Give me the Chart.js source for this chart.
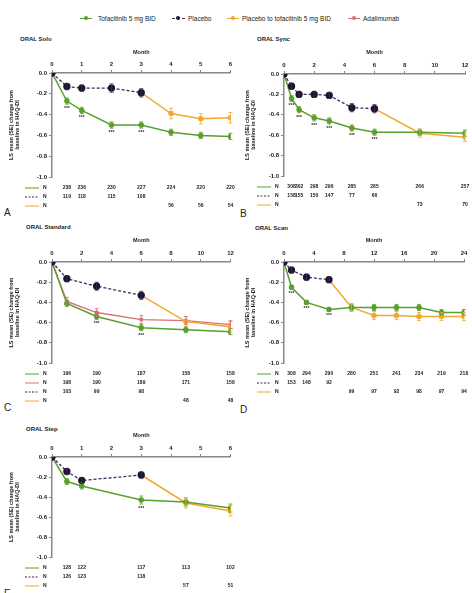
<!DOCTYPE html>
<html><head><meta charset="utf-8">
<script src="https://cdn.jsdelivr.net/npm/chart.js@4/dist/chart.umd.min.js"></script>
<style>
body{margin:0;width:472px;height:593px;background:#fff;position:relative;overflow:hidden;font-family:"Liberation Sans",Arial,sans-serif;color:#222;}
.cv{position:absolute;width:236px;height:195px;}
.ttl{position:absolute;font-size:6px;font-weight:bold;white-space:nowrap;}
.let{position:absolute;font-size:10px;white-space:nowrap;}
.lg{position:absolute;top:15px;font-size:6.5px;white-space:nowrap;line-height:8px;}
.ico{position:absolute;top:18px;height:0;}
.dot{position:absolute;top:16px;width:4px;height:4px;border-radius:50%;}
</style>
</head><body>
<div class="ico" style="left:80px;width:12px;border-top:1.5px solid #5aa02c"></div><div class="dot" style="left:84px;background:#5aa02c"></div>
<div class="lg" style="left:98px">Tofacitinib 5 mg BID</div>
<div class="ico" style="left:172px;width:13px;border-top:1.5px dashed #3a2a5c"></div><div class="dot" style="left:176px;background:#1d1530"></div>
<div class="lg" style="left:188px">Placebo</div>
<div class="ico" style="left:227px;width:12px;border-top:1.5px solid #f0a830"></div><div class="dot" style="left:231px;background:#f0a830"></div>
<div class="lg" style="left:242px">Placebo to tofacitinib 5 mg BID</div>
<div class="ico" style="left:348px;width:12px;border-top:1.5px solid #d9707a"></div><div class="dot" style="left:352px;background:#d9707a"></div>
<div class="lg" style="left:363px">Adalimumab</div>

<div class="ttl" style="left:20px;top:36px">ORAL Solo</div>
<div class="ttl" style="left:257px;top:36px">ORAL Sync</div>
<div class="ttl" style="left:26px;top:224px">ORAL Standard</div>
<div class="ttl" style="left:255px;top:225px">ORAL Scan</div>
<div class="ttl" style="left:26px;top:426px">ORAL Step</div>
<div class="let" style="left:4px;top:207px">A</div>
<div class="let" style="left:240px;top:208px">B</div>
<div class="let" style="left:4px;top:402px">C</div>
<div class="let" style="left:240px;top:404px">D</div>
<div class="let" style="left:4px;top:588px">E</div>

<canvas id="cA" class="cv" style="left:0;top:30px"></canvas>
<canvas id="cB" class="cv" style="left:236px;top:30px"></canvas>
<canvas id="cC" class="cv" style="left:0;top:218px"></canvas>
<canvas id="cD" class="cv" style="left:236px;top:218px"></canvas>
<canvas id="cE" class="cv" style="left:0;top:413px"></canvas>
<script>
// ---------- ORAL Solo ----------
const soloTofaX=[0,0.5,1,2,3,4,5,6];
const soloTofaY=[0,-0.27,-0.36,-0.50,-0.50,-0.57,-0.60,-0.61];
const soloTofaSE=[0,0.03,0.03,0.03,0.03,0.03,0.03,0.03];
const soloPboX=[0,0.5,1,2,3];
const soloPboY=[0,-0.13,-0.145,-0.145,-0.19];
const soloPboSE=[0,0.03,0.03,0.04,0.04];
const soloSwX=[3,4,5,6];
const soloSwY=[-0.19,-0.39,-0.44,-0.43];
const soloSwSE=[0,0.05,0.05,0.05];
const soloNTofaX=[0.5,1,2,3,4,5,6], soloNTofa=[238,236,230,227,224,220,220];
const soloNPboX=[0.5,1,2,3], soloNPbo=[119,118,115,108];
const soloNSwX=[4,5,6], soloNSw=[56,56,54];
const soloSigX=[0.5,1,2,3];
// ---------- ORAL Sync ----------
const syncTofaX=[0,0.5,1,2,3,4.5,6,9,12];
const syncTofaY=[0,-0.24,-0.35,-0.43,-0.46,-0.53,-0.57,-0.57,-0.58];
const syncTofaSE=[0,0.03,0.03,0.03,0.03,0.03,0.03,0.03,0.03];
const syncPboX=[0,0.5,1,2,3,4.5,6];
const syncPboY=[0,-0.12,-0.20,-0.20,-0.21,-0.33,-0.34];
const syncPboSE=[0,0.03,0.03,0.03,0.03,0.04,0.04];
const syncSwX=[6,9,12];
const syncSwY=[-0.34,-0.58,-0.62];
const syncSwSE=[0,0.04,0.04];
const syncNTofaX=[0.5,1,2,3,4.5,6,9,12], syncNTofa=[308,302,298,296,285,285,266,257];
const syncNPboX=[0.5,1,2,3,4.5,6], syncNPbo=[158,155,150,147,77,66];
const syncNSwX=[9,12], syncNSw=[73,70];
const syncSigX=[0.5,1,2,3,4.5,6];
// ---------- ORAL Standard ----------
const stdTofaX=[0,1,3,6,9,12];
const stdTofaY=[0,-0.41,-0.54,-0.65,-0.67,-0.69];
const stdTofaSE=[0,0.03,0.03,0.03,0.03,0.03];
const stdAdaX=[0,1,3,6,9,12];
const stdAdaY=[0,-0.39,-0.50,-0.57,-0.58,-0.62];
const stdAdaSE=[0,0.04,0.04,0.04,0.04,0.04];
const stdPboX=[0,1,3,6];
const stdPboY=[0,-0.165,-0.24,-0.33];
const stdPboSE=[0,0.03,0.04,0.04];
const stdSwX=[6,9,12];
const stdSwY=[-0.33,-0.59,-0.64];
const stdSwSE=[0,0.05,0.05];
const stdNTofaX=[1,3,6,9,12], stdNTofa=[196,190,187,158,158];
const stdNAdaX=[1,3,6,9,12], stdNAda=[198,190,189,171,158];
const stdNPboX=[1,3,6], stdNPbo=[103,99,98];
const stdNSwX=[9,12], stdNSw=[48,48];
const stdSigX=[3,6];
// ---------- ORAL Scan ----------
const scanTofaX=[0,1,3,6,9,12,15,18,21,24];
const scanTofaY=[0,-0.25,-0.40,-0.47,-0.45,-0.45,-0.45,-0.45,-0.50,-0.50];
const scanTofaSE=[0,0.02,0.02,0.02,0.03,0.03,0.03,0.03,0.03,0.03];
const scanPboX=[0,1,3,6];
const scanPboY=[0,-0.08,-0.15,-0.175];
const scanPboSE=[0,0.03,0.03,0.03];
const scanSwX=[6,9,12,15,18,21,24];
const scanSwY=[-0.175,-0.45,-0.53,-0.53,-0.54,-0.54,-0.54];
const scanSwSE=[0,0.04,0.04,0.04,0.04,0.04,0.04];
const scanNTofaX=[1,3,6,9,12,15,18,21,24], scanNTofa=[308,294,290,280,251,241,234,219,218];
const scanNPboX=[1,3,6], scanNPbo=[153,148,92];
const scanNSwX=[9,12,15,18,21,24], scanNSw=[99,97,92,98,97,94];
const scanSigX=[1,3,6];
// ---------- ORAL Step ----------
const stepTofaX=[0,0.5,1,3,4.5,6];
const stepTofaY=[0,-0.245,-0.29,-0.43,-0.45,-0.51];
const stepTofaSE=[0,0.03,0.03,0.04,0.04,0.04];
const stepPboX=[0,0.5,1,3];
const stepPboY=[0,-0.145,-0.235,-0.18];
const stepPboSE=[0,0.03,0.03,0.03];
const stepSwX=[3,4.5,6];
const stepSwY=[-0.18,-0.46,-0.54];
const stepSwSE=[0,0.05,0.05];
const stepNTofaX=[0.5,1,3,4.5,6], stepNTofa=[128,122,117,113,102];
const stepNPboX=[0.5,1,3], stepNPbo=[126,123,118];
const stepNSwX=[4.5,6], stepNSw=[57,51];
const stepSigX=[3];

const GREEN='#5aa02c', PURPLE='#3a2a5c', PDOT='#1d1530', ORANGE='#f0a830', PINK='#d9707a';
const yTicks=[0,-0.2,-0.4,-0.6,-0.8,-1.0];

function pts(xs,ys){return xs.map((x,i)=>({x:x,y:ys[i]}));}
function dsTofa(x,y,se){return {label:'Tofacitinib 5 mg BID',data:pts(x,y),se:se,borderColor:GREEN,backgroundColor:GREEN,borderWidth:1.5,pointRadius:2,order:2};}
function dsPbo(x,y,se){return {label:'Placebo',data:pts(x,y),se:se,borderColor:PURPLE,backgroundColor:PDOT,pointBorderColor:PDOT,borderWidth:1.3,borderDash:[3,2],pointRadius:3,order:1};}
function dsSw(x,y,se){return {label:'Placebo to tofacitinib 5 mg BID',data:pts(x,y),se:se,borderColor:ORANGE,backgroundColor:ORANGE,borderWidth:1.5,pointRadius:2,order:3};}
function dsAda(x,y,se){return {label:'Adalimumab',data:pts(x,y),se:se,borderColor:PINK,backgroundColor:PINK,borderWidth:1.3,pointRadius:1.5,order:4};}

const extras={
  id:'extras',
  afterDatasetsDraw(chart,args,o){
    const ctx=chart.ctx,xs=chart.scales.x,ys=chart.scales.y;
    chart.data.datasets.forEach(ds=>{
      ctx.save();ctx.strokeStyle=ds.borderColor;ctx.lineWidth=0.8;
      ds.data.forEach((p,j)=>{
        const se=ds.se[j]; if(!se) return;
        const x=xs.getPixelForValue(p.x),a=ys.getPixelForValue(p.y+se),b=ys.getPixelForValue(p.y-se);
        ctx.beginPath();ctx.moveTo(x,a);ctx.lineTo(x,b);ctx.moveTo(x-2,a);ctx.lineTo(x+2,a);ctx.moveTo(x-2,b);ctx.lineTo(x+2,b);ctx.stroke();
      });
      ctx.restore();
    });
    // significance marks under tofacitinib points
    const t=chart.data.datasets[0];
    ctx.save();ctx.fillStyle='#333';ctx.font='bold 5px "Liberation Sans",Arial';ctx.textAlign='center';ctx.textBaseline='top';
    (o.sig||[]).forEach(sx=>{
      const j=t.data.findIndex(p=>p.x===sx); if(j<0) return;
      const p=t.data[j];
      ctx.fillText('***',xs.getPixelForValue(p.x),ys.getPixelForValue(p.y-t.se[j])+2);
    });
    ctx.restore();
  },
  afterDraw(chart,args,o){
    const ctx=chart.ctx,xs=chart.scales.x,ca=chart.chartArea;
    ctx.save();
    (o.rows||[]).forEach((r,i)=>{
      const y=ca.bottom+11+i*9;
      ctx.strokeStyle=r.color;ctx.lineWidth=1;ctx.setLineDash(r.dash?[2,1.5]:[]);
      ctx.beginPath();ctx.moveTo(ca.left-27,y);ctx.lineTo(ca.left-13,y);ctx.stroke();
      ctx.setLineDash([]);
      ctx.fillStyle='#222';ctx.font='bold 5px "Liberation Sans",Arial';ctx.textBaseline='middle';ctx.textAlign='left';
      ctx.fillText('N',ca.left-9,y);
      ctx.textAlign='center';
      r.xs.forEach((x,k)=>ctx.fillText(String(r.ns[k]),xs.getPixelForValue(x),y));
    });
    ctx.restore();
  }
};

function make(id,max,step,datasets,rows,sig,geo){
  const H=195;
  new Chart(document.getElementById(id),{
    type:'line',
    data:{datasets:datasets},
    plugins:[extras],
    options:{
      responsive:false,animation:false,
      layout:{padding:{left:8,top:19,right:236-geo.r,bottom:H-geo.b}},
      plugins:{legend:{display:false},tooltip:{enabled:false},extras:{rows:rows,sig:sig}},
      scales:{
        x:{type:'linear',position:'top',min:0,max:max,
          afterFit:s=>{s.height=geo.t-19;},
          title:{display:true,text:'Month',color:'#222',font:{size:5.5,weight:'bold',family:'"Liberation Sans",Arial'},padding:0},
          ticks:{stepSize:step,color:'#222',font:{size:6,weight:'bold',family:'"Liberation Sans",Arial'},padding:2,maxRotation:0},
          grid:{display:true,drawOnChartArea:false,drawTicks:true,tickLength:3,color:'#888'},
          border:{display:true,color:'#888',width:1.5}},
        y:{type:'linear',min:-1,max:0,
          afterFit:s=>{s.width=geo.l-8;},
          afterBuildTicks:s=>{s.ticks=yTicks.map(v=>({value:v}));},
          title:{display:true,text:['LS mean (SE) change from','baseline in HAQ-DI'],color:'#222',font:{size:5.5,weight:'bold',family:'"Liberation Sans",Arial'},padding:0},
          ticks:{color:'#222',font:{size:6,weight:'bold',family:'"Liberation Sans",Arial'},padding:2,callback:v=>v.toFixed(1)},
          grid:{display:true,drawOnChartArea:false,drawTicks:true,tickLength:3,color:'#888'},
          border:{display:true,color:'#888',width:1.5}}
      }
    }
  });
}
const c=document.querySelectorAll('canvas');
c.forEach(e=>{e.width=236;e.height=195;});

make('cA',6,1,[dsTofa(soloTofaX,soloTofaY,soloTofaSE),dsPbo(soloPboX,soloPboY,soloPboSE),dsSw(soloSwX,soloSwY,soloSwSE)],
  [{color:GREEN,xs:soloNTofaX,ns:soloNTofa},{color:PURPLE,dash:true,xs:soloNPboX,ns:soloNPbo},{color:ORANGE,xs:soloNSwX,ns:soloNSw}],
  soloSigX,{l:52,r:232,t:43,b:147});
make('cB',12,2,[dsTofa(syncTofaX,syncTofaY,syncTofaSE),dsPbo(syncPboX,syncPboY,syncPboSE),dsSw(syncSwX,syncSwY,syncSwSE)],
  [{color:GREEN,xs:syncNTofaX,ns:syncNTofa},{color:PURPLE,dash:true,xs:syncNPboX,ns:syncNPbo},{color:ORANGE,xs:syncNSwX,ns:syncNSw}],
  syncSigX,{l:48,r:229,t:44,b:146});
make('cC',12,2,[dsTofa(stdTofaX,stdTofaY,stdTofaSE),dsPbo(stdPboX,stdPboY,stdPboSE),dsSw(stdSwX,stdSwY,stdSwSE),dsAda(stdAdaX,stdAdaY,stdAdaSE)],
  [{color:GREEN,xs:stdNTofaX,ns:stdNTofa},{color:PINK,xs:stdNAdaX,ns:stdNAda},{color:PURPLE,dash:true,xs:stdNPboX,ns:stdNPbo},{color:ORANGE,xs:stdNSwX,ns:stdNSw}],
  stdSigX,{l:52,r:232,t:44,b:145});
make('cD',24,4,[dsTofa(scanTofaX,scanTofaY,scanTofaSE),dsPbo(scanPboX,scanPboY,scanPboSE),dsSw(scanSwX,scanSwY,scanSwSE)],
  [{color:GREEN,xs:scanNTofaX,ns:scanNTofa},{color:PURPLE,dash:true,xs:scanNPboX,ns:scanNPbo},{color:ORANGE,xs:scanNSwX,ns:scanNSw}],
  scanSigX,{l:48,r:228,t:44,b:145});
make('cE',6,1,[dsTofa(stepTofaX,stepTofaY,stepTofaSE),dsPbo(stepPboX,stepPboY,stepPboSE),dsSw(stepSwX,stepSwY,stepSwSE)],
  [{color:GREEN,xs:stepNTofaX,ns:stepNTofa},{color:PURPLE,dash:true,xs:stepNPboX,ns:stepNPbo},{color:ORANGE,xs:stepNSwX,ns:stepNSw}],
  stepSigX,{l:52,r:232,t:44,b:144});
</script>
</body></html>
